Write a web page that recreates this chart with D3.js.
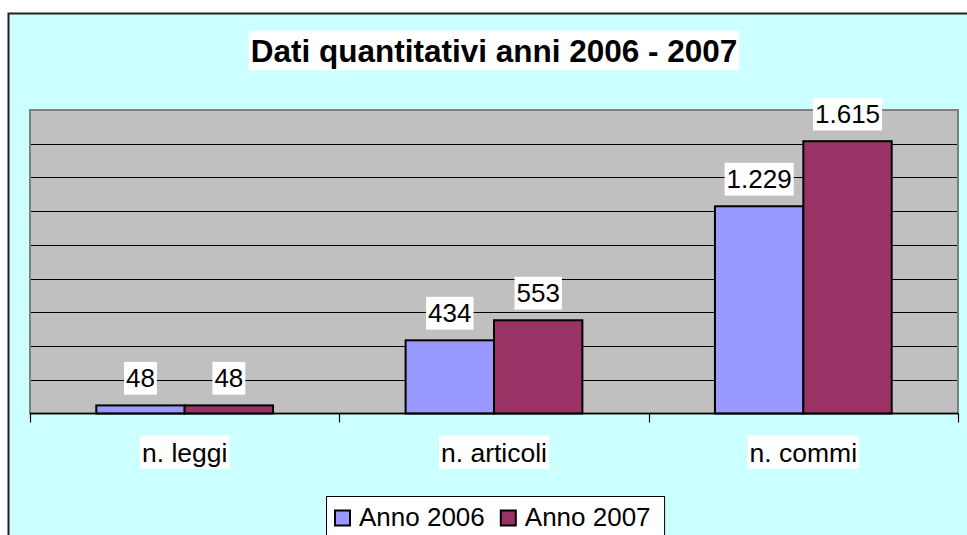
<!DOCTYPE html>
<html>
<head>
<meta charset="utf-8">
<script src="https://cdn.jsdelivr.net/npm/d3@7"></script>
<style>
  body { margin: 0; background: #fff; }
  text { font-family: "Liberation Sans", Arial, sans-serif; }
</style>
</head>
<body>
<svg id="chart" width="967" height="535"></svg>
<script>
  'use strict';

  var categories = ['n. leggi', 'n. articoli', 'n. commi'];
  var seriesNames = ['Anno 2006', 'Anno 2007'];
  var values2006 = [48, 434, 1229];
  var values2007 = [48, 553, 1615];
  var seriesColors = ['#9999ff', '#993366'];
  var gridValues = [200, 400, 600, 800, 1000, 1200, 1400, 1600];
  var title = 'Dati quantitativi anni 2006 - 2007';

  var seriesValues = [values2006, values2007];
  var fmt = d3.formatLocale({ decimal: ',', thousands: '.', grouping: [3] }).format(',d');

  var svg = d3.select('#chart');

  // chart area (frame runs off the right and bottom of the picture)
  svg.append('rect')
    .attr('x', 8.5).attr('y', 13.5)
    .attr('width', 980).attr('height', 540)
    .attr('fill', '#ccffff')
    .attr('stroke', '#222').attr('stroke-width', 2);

  var plot = { left: 30, right: 958, top: 110, bottom: 413.5 };

  var x0 = d3.scaleBand().domain(categories).range([plot.left, plot.right]);
  var x1 = d3.scaleBand().domain(seriesNames).range([0, x0.bandwidth()]).paddingOuter(0.75);
  var y = d3.scaleLinear().domain([0, 1800]).range([plot.bottom, plot.top]);

  svg.append('rect')
    .attr('x', plot.left).attr('y', plot.top)
    .attr('width', plot.right - plot.left).attr('height', plot.bottom - plot.top)
    .attr('fill', '#c0c0c0')
    .attr('stroke', '#808080').attr('stroke-width', 2);

  svg.append('g').selectAll('line')
    .data(gridValues)
    .join('line')
    .attr('x1', plot.left + 1).attr('x2', plot.right - 1)
    .attr('y1', function(d) { return Math.round(y(d)) + 0.5; })
    .attr('y2', function(d) { return Math.round(y(d)) + 0.5; })
    .attr('stroke', '#000').attr('stroke-width', 1);

  // bars
  var rows = [];
  categories.forEach(function(c, i) {
    seriesNames.forEach(function(s, j) {
      rows.push({ cat: c, series: s, value: seriesValues[j][i], color: seriesColors[j] });
    });
  });

  svg.append('g').selectAll('rect')
    .data(rows)
    .join('rect')
    .attr('x', function(d) { return x0(d.cat) + x1(d.series); })
    .attr('y', function(d) { return y(d.value); })
    .attr('width', x1.bandwidth())
    .attr('height', function(d) { return plot.bottom - y(d.value); })
    .attr('fill', function(d) { return d.color; })
    .attr('stroke', '#000').attr('stroke-width', 2);

  // x axis line and ticks at category boundaries
  var axis = svg.append('g');
  axis.append('line')
    .attr('x1', plot.left).attr('x2', plot.right)
    .attr('y1', plot.bottom).attr('y2', plot.bottom)
    .attr('stroke', '#000').attr('stroke-width', 1.5);
  var bounds = categories.map(function(c) { return x0(c); }).concat([x0.range()[1]]);
  axis.selectAll('.tick')
    .data(bounds)
    .join('line')
    .attr('class', 'tick')
    .attr('x1', function(d) { return Math.round(d) + 0.5; })
    .attr('x2', function(d) { return Math.round(d) + 0.5; })
    .attr('y1', plot.bottom).attr('y2', plot.bottom + 9)
    .attr('stroke', '#000').attr('stroke-width', 1.2);

  function boxedText(g, x, yBase, str, size, weight) {
    var grp = g.append('g');
    var rect = grp.append('rect').attr('fill', '#fff');
    var t = grp.append('text')
      .attr('x', x).attr('y', yBase)
      .attr('text-anchor', 'middle')
      .attr('font-size', size)
      .attr('font-weight', weight || 'normal')
      .attr('fill', '#000')
      .text(str);
    var b = t.node().getBBox();
    rect.attr('x', b.x - 2).attr('y', yBase - size * 0.98)
      .attr('width', b.width + 4).attr('height', size * 1.26);
    return grp;
  }

  var labels = svg.append('g');
  categories.forEach(function(c) {
    boxedText(labels, x0(c) + x0.bandwidth() / 2, 461.5, c, 26.5);
  });

  rows.forEach(function(d) {
    boxedText(labels, x0(d.cat) + x1(d.series) + x1.bandwidth() / 2, y(d.value) - 18, fmt(d.value), 26);
  });

  boxedText(svg, 494, 61.5, title, 31.5, 'bold');

  // legend
  var legend = svg.append('g');
  var legendBox = legend.append('rect')
    .attr('x', 326.5).attr('y', 496.5)
    .attr('height', 60)
    .attr('fill', '#fff').attr('stroke', '#000').attr('stroke-width', 1);
  var lx = 334;
  seriesNames.forEach(function(s, j) {
    legend.append('rect')
      .attr('x', lx + 1).attr('y', 510.5)
      .attr('width', 15).attr('height', 15)
      .attr('fill', seriesColors[j])
      .attr('stroke', '#000').attr('stroke-width', 2);
    var t = legend.append('text')
      .attr('x', lx + 25).attr('y', 525.5)
      .attr('font-size', 26)
      .text(s);
    lx += 25 + t.node().getComputedTextLength() + 15;
  });
  legendBox.attr('width', lx - 15 + 14 - 326.5);
</script>
</body>
</html>
